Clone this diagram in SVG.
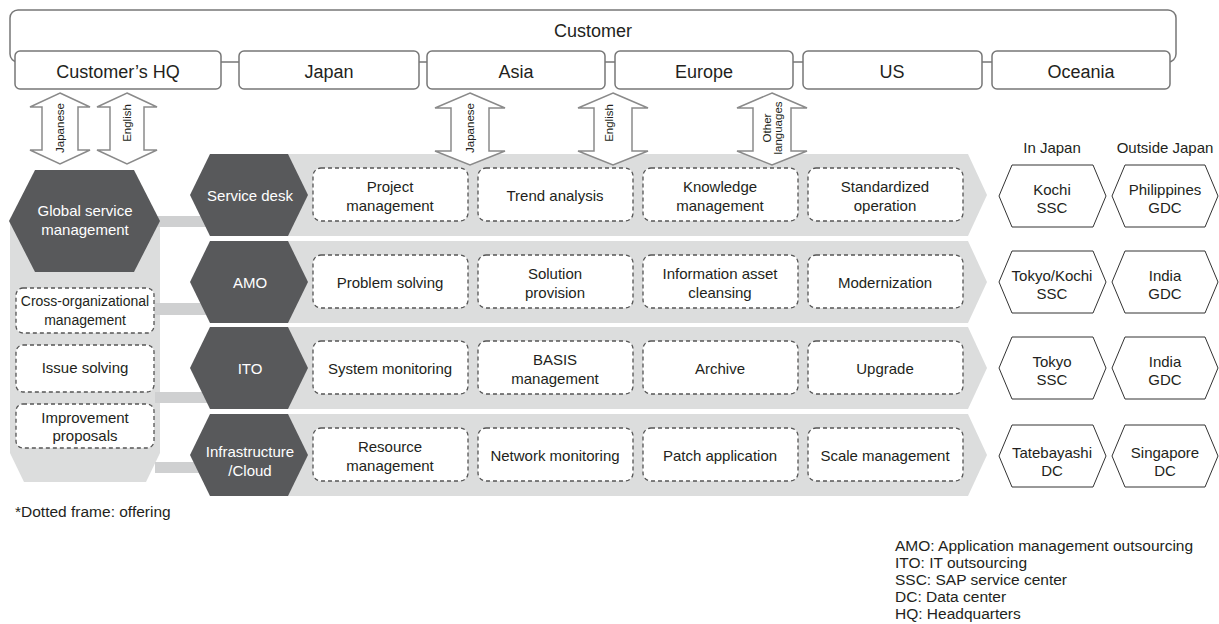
<svg xmlns="http://www.w3.org/2000/svg" width="1219" height="624" viewBox="0 0 1219 624">
<style>
text{font-family:"Liberation Sans",Arial,sans-serif;fill:#231f20}
.reg{fill:#fff;stroke:#777;stroke-width:1.5}
.rl{font-size:18px;text-anchor:middle}
.arr{fill:#fff;stroke:#8a8a8a;stroke-width:1.5}
.at{font-size:11.5px;text-anchor:middle}
.band{fill:#dcdddd}
.bar{fill:#cfd0d1}
.dk{fill:#58595b}
.dt{font-size:15px;text-anchor:middle;fill:#fff}
.off{fill:#fff;stroke:#555;stroke-width:1.3;stroke-dasharray:4 3}
.ot{font-size:15px;text-anchor:middle}
.site{fill:#fff;stroke:#333;stroke-width:1}
.st{font-size:15px;text-anchor:middle}
.lg{font-size:15.5px}
</style>

<g id="customer">
<rect class="reg" x="10" y="10" width="1166" height="52" rx="8"/>
<text class="rl" x="593" y="37">Customer</text>
</g>
<g id="region-hq"><rect class="reg" x="15" y="51" width="206" height="38" rx="5"/><text class="rl" x="118" y="78">Customer’s HQ</text></g>
<g id="region-japan"><rect class="reg" x="239" y="51" width="180" height="38" rx="5"/><text class="rl" x="329" y="78">Japan</text></g>
<g id="region-asia"><rect class="reg" x="427" y="51" width="178" height="38" rx="5"/><text class="rl" x="516" y="78">Asia</text></g>
<g id="region-europe"><rect class="reg" x="615" y="51" width="178" height="38" rx="5"/><text class="rl" x="704" y="78">Europe</text></g>
<g id="region-us"><rect class="reg" x="803" y="51" width="179" height="38" rx="5"/><text class="rl" x="892" y="78">US</text></g>
<g id="region-oceania"><rect class="reg" x="992" y="51" width="178" height="38" rx="5"/><text class="rl" x="1081" y="78">Oceania</text></g>

<g id="connectors">
<polygon class="band" points="10,221 160,221 160,453 146,482 24,482 10,453"/>
<rect class="bar" x="155" y="216" width="60" height="11"/>
<rect class="bar" x="155" y="303" width="60" height="12"/>
<rect class="bar" x="155" y="392" width="60" height="11"/>
<rect class="bar" x="155" y="462" width="60" height="11"/>
<path class="band" d="M250,154 L968,154 L987,195 L968,236 L250,236 Z"/>
<path class="band" d="M250,241 L968,241 L987,282 L968,323 L250,323 Z"/>
<path class="band" d="M250,327 L968,327 L987,368 L968,409 L250,409 Z"/>
<path class="band" d="M250,414 L968,414 L987,455 L968,496 L250,496 Z"/>
</g>

<g id="gsm">
<polygon class="dk" points="9,221 35,170 134,170 160,221 134,272 35,272"/>
<text class="dt" x="85" y="216">Global service</text>
<text class="dt" x="85" y="235">management</text>
</g>
<g id="cross-org"><rect class="off" x="16" y="288" width="138" height="45" rx="7"/><text class="ot" x="85" y="306" style="font-size:14px">Cross-organizational</text><text class="ot" x="85" y="325" style="font-size:14px">management</text></g>
<g id="issue"><rect class="off" x="16" y="345" width="138" height="47" rx="7"/><text class="ot" x="85" y="373">Issue solving</text></g>
<g id="improve"><rect class="off" x="16" y="404" width="138" height="44" rx="7"/><text class="ot" x="85" y="423">Improvement</text><text class="ot" x="85" y="441">proposals</text></g>

<g id="svc-desk"><polygon class="dk" points="190,195 210,154 288,154 308,195 288,236 210,236"/><text class="dt" x="250" y="201">Service desk</text></g>
<g id="svc-amo"><polygon class="dk" points="190,282 210,241 288,241 308,282 288,323 210,323"/><text class="dt" x="250" y="288">AMO</text></g>
<g id="svc-ito"><polygon class="dk" points="190,368 210,327 288,327 308,368 288,409 210,409"/><text class="dt" x="250" y="374">ITO</text></g>
<g id="svc-infra"><polygon class="dk" points="190,455 210,414 288,414 308,455 288,496 210,496"/><text class="dt" x="250" y="457">Infrastructure</text><text class="dt" x="250" y="476">/Cloud</text></g>

<g id="o-project"><rect class="off" x="313" y="168" width="155" height="53" rx="8"/><text class="ot" x="390" y="192">Project</text><text class="ot" x="390" y="211">management</text></g>
<g id="o-trend"><rect class="off" x="478" y="168" width="155" height="53" rx="8"/><text class="ot" x="555" y="201">Trend analysis</text></g>
<g id="o-knowledge"><rect class="off" x="643" y="168" width="155" height="53" rx="8"/><text class="ot" x="720" y="192">Knowledge</text><text class="ot" x="720" y="211">management</text></g>
<g id="o-standard"><rect class="off" x="808" y="168" width="155" height="53" rx="8"/><text class="ot" x="885" y="192">Standardized</text><text class="ot" x="885" y="211">operation</text></g>

<g id="o-problem"><rect class="off" x="313" y="255" width="155" height="53" rx="8"/><text class="ot" x="390" y="288">Problem solving</text></g>
<g id="o-solution"><rect class="off" x="478" y="255" width="155" height="53" rx="8"/><text class="ot" x="555" y="279">Solution</text><text class="ot" x="555" y="298">provision</text></g>
<g id="o-info"><rect class="off" x="643" y="255" width="155" height="53" rx="8"/><text class="ot" x="720" y="279">Information asset</text><text class="ot" x="720" y="298">cleansing</text></g>
<g id="o-modern"><rect class="off" x="808" y="255" width="155" height="53" rx="8"/><text class="ot" x="885" y="288">Modernization</text></g>

<g id="o-sysmon"><rect class="off" x="313" y="341" width="155" height="53" rx="8"/><text class="ot" x="390" y="374">System monitoring</text></g>
<g id="o-basis"><rect class="off" x="478" y="341" width="155" height="53" rx="8"/><text class="ot" x="555" y="365">BASIS</text><text class="ot" x="555" y="384">management</text></g>
<g id="o-archive"><rect class="off" x="643" y="341" width="155" height="53" rx="8"/><text class="ot" x="720" y="374">Archive</text></g>
<g id="o-upgrade"><rect class="off" x="808" y="341" width="155" height="53" rx="8"/><text class="ot" x="885" y="374">Upgrade</text></g>

<g id="o-resource"><rect class="off" x="313" y="428" width="155" height="53" rx="8"/><text class="ot" x="390" y="452">Resource</text><text class="ot" x="390" y="471">management</text></g>
<g id="o-network"><rect class="off" x="478" y="428" width="155" height="53" rx="8"/><text class="ot" x="555" y="461">Network monitoring</text></g>
<g id="o-patch"><rect class="off" x="643" y="428" width="155" height="53" rx="8"/><text class="ot" x="720" y="461">Patch application</text></g>
<g id="o-scale"><rect class="off" x="808" y="428" width="155" height="53" rx="8"/><text class="ot" x="885" y="461">Scale management</text></g>

<g id="lang-arrows">
<path class="arr" d="M60,93 L90,107 L78,107 L78,150 L90,150 L60,164 L30,150 L42,150 L42,107 L30,107 Z"/>
<text class="at" transform="translate(64,128) rotate(-90)">Japanese</text>
<path class="arr" d="M127,93 L157,107 L144,107 L144,150 L157,150 L127,164 L97,150 L110,150 L110,107 L97,107 Z"/>
<text class="at" transform="translate(131,123) rotate(-90)">English</text>
<path class="arr" d="M470,93 L505,108 L489,108 L489,151 L505,151 L470,165 L435,151 L451,151 L451,108 L435,108 Z"/>
<text class="at" transform="translate(474,128) rotate(-90)">Japanese</text>
<path class="arr" d="M613,93 L648,108 L632,108 L632,151 L648,151 L613,165 L578,151 L594,151 L594,108 L578,108 Z"/>
<text class="at" transform="translate(613,123) rotate(-90)">English</text>
<path class="arr" d="M772,93 L807,108 L791,108 L791,151 L807,151 L772,165 L737,151 L753,151 L753,108 L737,108 Z"/>
<text class="at" transform="translate(771,128) rotate(-90)">Other</text>
<text class="at" transform="translate(782,128) rotate(-90)">languages</text>
</g>

<g id="site-headers">
<text class="st" x="1052" y="153">In Japan</text>
<text class="st" x="1165" y="153">Outside Japan</text>
</g>
<g id="s-kochi"><polygon class="site" points="999,196 1012,165 1093,165 1106,196 1093,227 1012,227"/><text class="st" x="1052" y="195">Kochi</text><text class="st" x="1052" y="213">SSC</text></g>
<g id="s-phil"><polygon class="site" points="1112,196 1125,165 1205,165 1218,196 1205,227 1125,227"/><text class="st" x="1165" y="195">Philippines</text><text class="st" x="1165" y="213">GDC</text></g>
<g id="s-tokyokochi"><polygon class="site" points="999,282 1012,251 1093,251 1106,282 1093,313 1012,313"/><text class="st" x="1052" y="281">Tokyo/Kochi</text><text class="st" x="1052" y="299">SSC</text></g>
<g id="s-india1"><polygon class="site" points="1112,282 1125,251 1205,251 1218,282 1205,313 1125,313"/><text class="st" x="1165" y="281">India</text><text class="st" x="1165" y="299">GDC</text></g>
<g id="s-tokyo"><polygon class="site" points="999,368 1012,337 1093,337 1106,368 1093,399 1012,399"/><text class="st" x="1052" y="367">Tokyo</text><text class="st" x="1052" y="385">SSC</text></g>
<g id="s-india2"><polygon class="site" points="1112,368 1125,337 1205,337 1218,368 1205,399 1125,399"/><text class="st" x="1165" y="367">India</text><text class="st" x="1165" y="385">GDC</text></g>
<g id="s-tatebayashi"><polygon class="site" points="999,456 1012,425 1093,425 1106,456 1093,487 1012,487"/><text class="st" x="1052" y="458">Tatebayashi</text><text class="st" x="1052" y="476">DC</text></g>
<g id="s-singapore"><polygon class="site" points="1112,456 1125,425 1205,425 1218,456 1205,487 1125,487"/><text class="st" x="1165" y="458">Singapore</text><text class="st" x="1165" y="476">DC</text></g>

<g id="notes">
<text class="lg" x="15" y="517">*Dotted frame: offering</text>
<text class="lg" x="895" y="551">AMO: Application management outsourcing</text>
<text class="lg" x="895" y="568">ITO: IT outsourcing</text>
<text class="lg" x="895" y="585">SSC: SAP service center</text>
<text class="lg" x="895" y="602">DC: Data center</text>
<text class="lg" x="895" y="619">HQ: Headquarters</text>
</g>
</svg>
